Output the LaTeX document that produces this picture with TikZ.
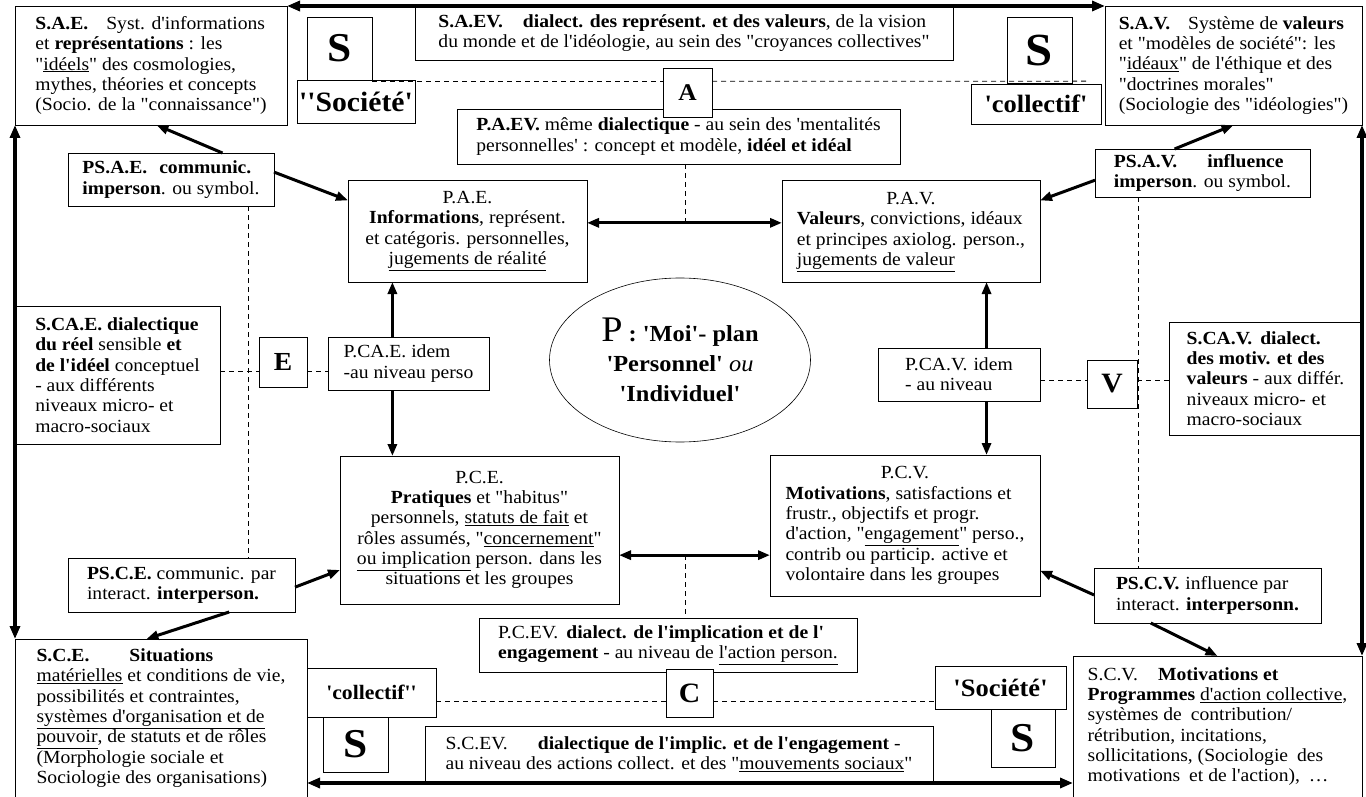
\documentclass[tikz,border=0pt]{standalone}
\usepackage{fontspec}
\setmainfont{Liberation Serif}[FakeStretch=1.06,Ligatures=TeXOff]
\usetikzlibrary{arrows.meta,calc,shapes.geometric}
\newcommand\fmain{\fontsize{18.5}{20.3}\selectfont}
\begin{document}
\begin{tikzpicture}[x=1pt,y=-1pt,
  bx/.style={draw,line width=0.9pt,fill=white,inner sep=0pt,outer sep=0pt,anchor=north west,font=\fmain},
  tl/.style={align=left},
  tc/.style={align=center},
  bigS/.style={font=\fontsize{41}{43}\selectfont\bfseries},
  letter/.style={font=\fontsize{26}{28}\selectfont\bfseries},
  dashline/.style={line width=0.9pt,dash pattern=on 5pt off 4pt},
  frame/.style={line width=3.5pt,{Triangle[length=13pt,width=10pt]}-{Triangle[length=13pt,width=10pt]}},
  arr/.style={line width=3pt,-{Triangle[length=12pt,width=9pt]}},
  darr/.style={line width=3pt,{Triangle[length=12pt,width=9pt]}-{Triangle[length=12pt,width=9pt]}}]
\useasboundingbox (0,0) rectangle (1366,797);
\fill[white] (0,0) rectangle (1366,797);

% ---- top row
\node[bx,tl,minimum width=272pt,minimum height=119pt] (SAE) at (15,6)
 {\textbf{S.A.E.}\hspace{18pt}Syst. d'informations\\et \textbf{représentations} : les\\"\underline{idéels}" des cosmologies,\\mythes, théories et concepts\\(Socio. de la "connaissance")};
\node[bx,tl,minimum width=538pt,minimum height=54pt] (SAEV) at (415,6)
 {\textbf{S.A.EV.}\hspace{20pt}\textbf{dialect. des représent. et des valeurs}, de la vision\\du monde et de l'idéologie, au sein des "croyances collectives"};
\node[bx,bigS,minimum width=65pt,minimum height=63pt] (S1) at (307,17) {S};
\node[bx,font=\fontsize{28}{30}\selectfont\bfseries,minimum width=118pt,minimum height=43pt] (SOC1) at (297,80) {''Société'};
\node[bx,font=\fontsize{46}{48}\selectfont\bfseries,minimum width=65pt,minimum height=66pt] (S2) at (1007,17) {S};
\node[bx,font=\fontsize{25}{27}\selectfont\bfseries,minimum width=130pt,minimum height=40pt] (COL1) at (971,84) {'collectif'};
\node[bx,tl,minimum width=257pt,minimum height=119pt] (SAV) at (1105,6)
 {\textbf{S.A.V.}\hspace{18pt}Système de \textbf{valeurs}\\et "modèles de société": les\\"\underline{idéaux}" de l'éthique et des\\"doctrines morales"\\(Sociologie des "idéologies")};
\node[bx,tl,minimum width=443pt,minimum height=55pt] (PAEV) at (457,109)
 {\textbf{P.A.EV.} même \textbf{dialectique} - au sein des 'mentalités\\personnelles' : concept et modèle, \textbf{idéel et idéal}};
\node[bx,font=\fontsize{24}{26}\selectfont\bfseries,minimum width=49pt,minimum height=49pt] (A) at (663,68) {A};
\node[bx,tl,minimum width=206pt,minimum height=53pt] (PSAE) at (68,153)
 {\textbf{PS.A.E.}\hspace{12pt}\textbf{communic.}\\\textbf{imperson}. ou symbol.};
\node[bx,tl,minimum width=215pt,minimum height=48pt] (PSAV) at (1095,149)
 {\textbf{PS.A.V.}\hspace{30pt}\textbf{influence}\\\textbf{imperson}. ou symbol.};

% ---- P boxes
\node[bx,tc,minimum width=239pt,minimum height=102pt] (PAE) at (348,180)
 {P.A.E.\\\textbf{Informations}, représent.\\et catégoris. personnelles,\\\underline{jugements de réalité}};
\node[bx,minimum width=258pt,minimum height=102pt] (PAV) at (782,180)
 {\begin{tabular}{@{}l@{}}\multicolumn{1}{@{}c@{}}{P.A.V.}\\\textbf{Valeurs}, convictions, idéaux\\et principes axiolog. person.,\\\underline{jugements de valeur}\end{tabular}};
\node[draw,ellipse,line width=0.6pt,inner sep=0pt,minimum width=261pt,minimum height=164pt,align=center,font=\fontsize{23}{30}\selectfont\bfseries] (P) at (680,360)
 {{\fontsize{36}{30}\selectfont\mdseries P} : 'Moi'- plan\\'Personnel' {\mdseries\itshape ou}\\'Individuel'};

% ---- middle row
\node[bx,tl,minimum width=205pt,minimum height=138pt] (SCAE) at (15,306)
 {\textbf{S.CA.E. dialectique}\\\textbf{du réel} sensible \textbf{et}\\\textbf{de l'idéel} conceptuel\\- aux différents\\niveaux micro- et\\macro-sociaux};
\node[bx,letter,minimum width=48pt,minimum height=50pt] (E) at (259,337) {E};
\node[bx,tl,minimum width=161pt,minimum height=53pt] (PCAE) at (328,337)
 {P.CA.E. idem\\-au niveau perso};
\node[bx,tl,minimum width=162pt,minimum height=53pt] (PCAV) at (878,348)
 {P.CA.V.\hspace{6pt}idem\\- au niveau};
\node[bx,font=\fontsize{28}{30}\selectfont\bfseries,minimum width=50pt,minimum height=48pt] (V) at (1087,360) {V};
\node[bx,tl,minimum width=193pt,minimum height=113pt] (SCAV) at (1169,322)
 {\textbf{S.CA.V.}\hspace{8pt}\textbf{dialect.}\\\textbf{des motiv. et des}\\\textbf{valeurs} - aux différ.\\niveaux micro-\hspace{6pt}et\\macro-sociaux};

% ---- lower P boxes
\node[bx,tc,minimum width=279pt,minimum height=148pt] (PCE) at (340,456)
 {P.C.E.\\\textbf{Pratiques} et "habitus"\\personnels, \underline{statuts de fait} et\\rôles assumés, "\underline{concernement}"\\\underline{ou implication} person. dans les\\situations et les groupes};
\node[bx,minimum width=270pt,minimum height=141pt] (PCV) at (770,455)
 {\begin{tabular}{@{}l@{}}\multicolumn{1}{@{}c@{}}{P.C.V.}\\\textbf{Motivations}, satisfactions et\\frustr., objectifs et progr.\\d'action, "\underline{engagement}" perso.,\\contrib ou particip. active et\\volontaire dans les groupes\end{tabular}};
\node[bx,tl,minimum width=227pt,minimum height=54pt] (PSCE) at (68,558)
 {\textbf{PS.C.E.} communic. par\\interact. \textbf{interperson.}};
\node[bx,tl,minimum width=227pt,minimum height=55pt] (PSCV) at (1094,568)
 {\textbf{PS.C.V.}\hspace{6pt}influence par\\interact. \textbf{interpersonn.}};
\node[bx,tl,minimum width=378pt,minimum height=54pt] (PCEV) at (479,618)
 {P.C.EV.\hspace{8pt}\textbf{dialect. de l'implication et de l'}\\\textbf{engagement} - au niveau de \underline{l'action person.}};
\node[bx,font=\fontsize{28}{30}\selectfont\bfseries,minimum width=47pt,minimum height=48pt] (C) at (666,669) {C};

% ---- bottom row
\node[bx,tl,minimum width=292pt,minimum height=158pt] (SCE) at (15,639)
 {\textbf{S.C.E.}\hspace{40pt}\textbf{Situations}\\\underline{matérielles} et conditions de vie,\\possibilités et contraintes,\\\underline{systèmes d'organisation et de}\\\underline{pouvoir}, de statuts et de rôles\\(Morphologie sociale et\\Sociologie des organisations)};
\node[bx,font=\fontsize{20.5}{22}\selectfont\bfseries,minimum width=129pt,minimum height=49pt] (COL2) at (307,668) {'collectif''};
\node[bx,bigS,minimum width=65pt,minimum height=55pt] (S3) at (323,717) {S};
\node[bx,tl,minimum width=508pt,minimum height=57pt] (SCEV) at (425,726)
 {S.C.EV.\hspace{30pt}\textbf{dialectique de l'implic. et de l'engagement} -\\au niveau des actions collect. et des "\underline{mouvements sociaux}"};
\node[bx,font=\fontsize{25}{27}\selectfont\bfseries,minimum width=131pt,minimum height=43pt] (SOC2) at (935,666) {'Société'};
\node[bx,bigS,minimum width=64pt,minimum height=58pt] (S4) at (991,709) {S};
\node[bx,tl,minimum width=289pt,minimum height=141pt] (SCV) at (1073,656)
 {S.C.V.\hspace{20pt}\textbf{Motivations et}\\\textbf{Programmes} \underline{d'action collective},\\systèmes de\hspace{4pt} contribution/\\rétribution, incitations,\\sollicitations, (Sociologie\hspace{4pt} des\\motivations\hspace{4pt} et de l'action),\hspace{4pt} …};

% ---- helper coordinates
\coordinate (aA) at ($(PAE.north east)!0.42!(PAE.south east)$);
\coordinate (aC) at ($(PCE.north east)!0.67!(PCE.south east)$);
\coordinate (dA) at ($(A.north west)!0.27!(A.south west)$);
\coordinate (dAend) at (1087,81.2);
\coordinate (dt) at ($(PAEV.south west)!0.515!(PAEV.south east)$);
\coordinate (db) at ($(PCEV.north west)!0.545!(PCEV.north east)$);
\coordinate (dl) at ($(PSAE.south west)!0.874!(PSAE.south east)$);
\coordinate (dr) at ($(PSAV.south west)!0.2!(PSAV.south east)$);
\coordinate (dE) at ($(E.north west)!0.68!(E.south west)$);
\coordinate (dV) at ($(V.north west)!0.42!(V.south west)$);
\coordinate (dC) at ($(C.north west)!0.667!(C.south west)$);
\coordinate (ue) at ($(PCAE.north west)!0.4!(PCAE.north east)$);
\coordinate (le) at ($(PCAE.south west)!0.4!(PCAE.south east)$);
\coordinate (uv) at ($(PCAV.north west)!0.67!(PCAV.north east)$);
\coordinate (lv) at ($(PCAV.south west)!0.67!(PCAV.south east)$);

% ---- dashed links
\draw[dashline] (dA -| S1.east) -- (dA);
\draw[dashline] (dA -| A.east) -- (dAend);
\draw[dashline] (dt) -- (dt |- aA);
\draw[dashline] (aC -| db) -- (db);
\draw[dashline] (dl) -- (dl |- PSCE.north);
\draw[dashline] (dr) -- (dr |- PSCV.north);
\draw[dashline] (dE -| SCAE.east) -- (dE);
\draw[dashline] (dE -| E.east) -- (dE -| PCAE.west);
\draw[dashline] (dV -| PCAV.east) -- (dV);
\draw[dashline] (dV -| V.east) -- (dV -| SCAV.west);
\draw[dashline] (dC -| COL2.east) -- (dC);
\draw[dashline] (dC -| C.east) -- (dC -| SOC2.west);

% ---- frame arrows
\draw[frame] (SAE.north east) -- (SAV.north west);
\draw[frame] (SAE.south west) -- (SCE.north west);
\draw[frame] (SAV.south east) -- (SCV.north east);
\draw[frame] (SCE.south east |- SCEV.south) -- (SCV.south west |- SCEV.south);

% ---- P arrows
\draw[darr] (aA) -- (aA -| PAV.west);
\draw[darr] (aC) -- (aC -| PCV.west);
\draw[arr] (ue) -- (ue |- PAE.south);
\draw[arr] (le) -- (le |- PCE.north);
\draw[arr] (uv) -- (uv |- PAV.south);
\draw[arr] (lv) -- (lv |- PCV.north);

% ---- PS arrows
\draw[arr] ($(PSAE.north west)!0.75!(PSAE.north east)$) -- ($(SAE.south west)!0.52!(SAE.south east)$);
\draw[arr] ($(PSAE.north east)!0.36!(PSAE.south east)$) -- ($(PAE.north west)!0.2!(PAE.south west)$);
\draw[arr] ($(PSAV.north west)!0.37!(PSAV.north east)$) -- (SAV.south);
\draw[arr] ($(PSAV.north west)!0.65!(PSAV.south west)$) -- ($(PAV.north east)!0.2!(PAV.south east)$);
\draw[arr] ($(PSCE.north east)!0.54!(PSCE.south east)$) -- ($(PCE.north west)!0.77!(PCE.south west)$);
\draw[arr] ($(PSCE.south west)!0.71!(PSCE.south east)$) -- ($(SCE.north west)!0.45!(SCE.north east)$);
\draw[arr] ($(PSCV.north west)!0.49!(PSCV.south west)$) -- ($(PCV.north east)!0.82!(PCV.south east)$);
\draw[arr] ($(PSCV.south west)!0.25!(PSCV.south east)$) -- (SCV.north);
\end{tikzpicture}
\end{document}
